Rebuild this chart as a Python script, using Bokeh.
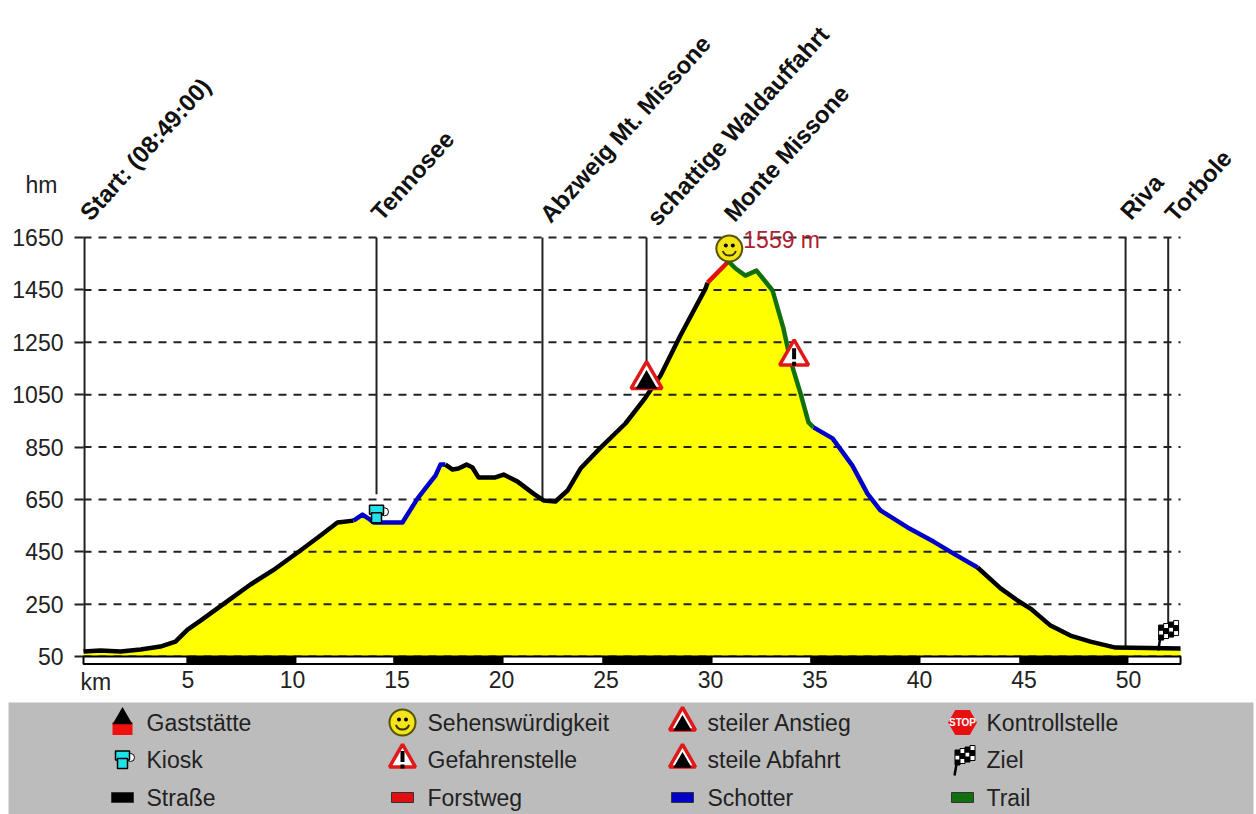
from bokeh.plotting import figure
from bokeh.models import FixedTicker, Range1d
from bokeh.core.properties import value
from bokeh.embed import file_html
from bokeh.resources import INLINE

# ---------- data ----------
km = [0, .81, 1.77, 2.73, 3.68, 4.40, 4.98, 5.6, 6.79, 7.99, 9.19, 10.38, 11.34, 12.15, 12.92,
      13.35, 13.64, 13.88, 15.26, 15.98, 16.46, 16.84, 17.08, 17.32, 17.66, 17.94, 18.33, 18.61,
      18.9, 19.71, 20.1, 20.77, 21.53, 22.01, 22.58, 23.16, 23.78, 24.74, 25.93, 26.89, 27.61,
      28.56, 29.76, 29.86, 30.81, 30.86, 31.2, 31.67, 32.2, 32.97, 33.49, 33.83, 34.31, 34.69,
      34.93, 35.84, 36.79, 37.51, 38.13, 39.43, 40.67, 41.63, 42.78, 43.88, 44.69, 45.31, 46.27,
      47.22, 48.18, 49.38, 52.49]
elev = [69, 73, 69, 77, 88, 107, 153, 187, 256, 325, 386, 455, 512, 562, 569,
        592, 577, 562, 562, 653, 703, 741, 783, 783, 764, 768, 783, 772,
        734, 734, 745, 718, 672, 646, 642, 684, 768, 848, 940, 1039, 1123,
        1276, 1455, 1478, 1555, 1559, 1532, 1505, 1524, 1448, 1303, 1180, 1054, 944,
        925, 883, 779, 672, 608, 543, 489, 443, 390, 310, 264, 233, 168,
        130, 107, 84, 81]
surface_from = [0, 12.92, 17.32, 29.86, 30.86, 34.93, 42.78]
surface_to = [12.92, 17.32, 29.86, 30.86, 34.93, 42.78, 52.49]
surface_kind = ["road", "gravel", "road", "forest", "trail", "gravel", "road"]
surface_colors = {"road": "#000000", "forest": "#e01010", "gravel": "#0000c8", "trail": "#107010"}

y_ticks = [50, 250, 450, 650, 850, 1050, 1250, 1450, 1650]
x_ticks = [5, 10, 15, 20, 25, 30, 35, 40, 45, 50]
strip_edges = [0, 4.98, 10.14, 14.88, 20.05, 24.88, 30.05, 34.83, 40, 44.83, 49.95, 52.49]

way_names = ["Start: (08:49:00)", "Tennosee", "Abzweig Mt. Missone", "schattige Waldauffahrt",
             "Monte Missone", "Riva", "Torbole"]
way_km = [0.05, 14.02, 21.96, 26.94, 30.9, 49.86, 51.9]
way_line_bottom = [69, 670, 646, 1160, 1600, 84, 170]

legend_col1 = ["Gaststätte", "Kiosk", "Straße"]
legend_col2 = ["Sehenswürdigkeit", "Gefahrenstelle", "Forstweg"]
legend_col3 = ["steiler Anstieg", "steile Abfahrt", "Schotter"]
legend_col4 = ["Kontrollstelle", "Ziel", "Trail"]

FONT = value("Liberation Sans")
TXT = "#222222"
PXX = 20.9    # px per km
PXY = 0.2618  # px per m
SX, SY = 1 / PXX, 1 / PXY


def X(px):
    return (px - 83) * SX


def Y(py):
    return 50 + (656 - py) * SY


# ---------- main chart ----------
p = figure(width=1256, height=814, x_range=Range1d(X(0), X(1256)), y_range=Range1d(Y(814), Y(0)),
           min_border=0, output_backend="svg", toolbar_location=None, outline_line_color=None)
p.grid.visible = False

p.yaxis.fixed_location = 0
p.yaxis.ticker = FixedTicker(ticks=y_ticks)
p.yaxis.axis_line_color = None
p.yaxis.major_tick_in = 0
p.yaxis.major_tick_out = 9
p.yaxis.major_tick_line_color = "#222222"
p.yaxis.major_tick_line_width = 2
p.yaxis.minor_tick_line_color = None
p.yaxis.major_label_standoff = 11
p.yaxis.major_label_text_font = "Liberation Sans"
p.yaxis.major_label_text_font_size = "23px"
p.yaxis.major_label_text_color = TXT

p.xaxis.fixed_location = Y(666)
p.xaxis.ticker = FixedTicker(ticks=x_ticks)
p.xaxis.axis_line_color = None
p.xaxis.major_tick_line_color = None
p.xaxis.minor_tick_line_color = None
p.xaxis.major_tick_in = 0
p.xaxis.major_tick_out = 0
p.xaxis.major_label_standoff = 4
p.xaxis.major_label_text_font = "Liberation Sans"
p.xaxis.major_label_text_font_size = "23px"
p.xaxis.major_label_text_color = TXT

# yellow area
p.varea(x=km, y1=[50] * len(km), y2=elev, fill_color="#ffff00")

# dashed elevation lines
p.segment(x0=[0] * len(y_ticks), y0=y_ticks, x1=[strip_edges[-1]] * len(y_ticks), y1=y_ticks,
          line_color="#222222", line_width=2, line_dash="8 7")

# way-point lines
p.segment(x0=way_km, y0=way_line_bottom, x1=way_km, y1=[1650] * len(way_km),
          line_color="#222222", line_width=2)

# strip below the profile
strip_colors = ["white" if i % 2 == 0 else "black" for i in range(len(strip_edges) - 1)]
p.quad(left=strip_edges[:-1], right=strip_edges[1:], bottom=[21] * (len(strip_edges) - 1),
       top=[50] * (len(strip_edges) - 1), fill_color=strip_colors, line_color="black", line_width=2)

# surface-coloured profile line
for a, b, kind in zip(surface_from, surface_to, surface_kind):
    xs = [k for k in km if a <= k <= b]
    ys = [e for k, e in zip(km, elev) if a <= k <= b]
    p.line(xs, ys, line_color=surface_colors[kind], line_width=4.5, line_join="round")

# rotated way-point names
name_dx = [0, -1, 2, 5, -1, -1, 1]
name_dy = [21, 21, 19, 16, 20, 22, 20]
p.text(x=[k + dx * SX for k, dx in zip(way_km, name_dx)], y=[1650 + dy * SY for dy in name_dy], text=way_names,
       angle=48, angle_units="deg", text_font=FONT, text_font_style="bold", text_font_size={"value": "24px"},
       text_color="#111111", text_baseline="middle", text_align="left")

p.text(x=[X(25), X(80)], y=[Y(184), Y(681)], text=["hm", "km"], text_font=FONT,
       text_font_size={"value": "23px"}, text_color=TXT, text_baseline="middle", text_align="left")
p.text(x=[30.9 + 14 * SX], y=[1559 + 21 * SY], text=["1559 m"], text_font=FONT,
       text_font_size={"value": "23px"}, text_color="#b02030", text_baseline="middle", text_align="left")


# ---------- icons ----------
def smiley(x, y, r=13):
    p.scatter([x], [y], marker="circle", size=2 * r, fill_color="#f4e418", line_color="#555500", line_width=2)
    p.scatter([x - 3.5 * SX, x + 3.5 * SX], [y + 3 * SY, y + 3 * SY], marker="circle", size=4, fill_color="black", line_color=None)
    p.arc([x], [y], radius={"value": 7, "units": "screen"}, start_angle=200, end_angle=340,
          start_angle_units="deg", end_angle_units="deg", line_color="#333300", line_width=2)


def warning(x, y, kind="danger", size=30):
    p.scatter([x], [y], marker="triangle", size=size, fill_color="white", line_color="#e01818", line_width=3.5)
    if kind == "danger":
        p.rect([x], [y + 3 * SY], width=4 * SX, height=11 * SY, fill_color="black", line_color=None)
        p.rect([x], [y - 7 * SY], width=4 * SX, height=4 * SY, fill_color="black", line_color=None)
    else:
        p.scatter([x], [y - 3 * SY], marker="triangle", size=size * 0.7, fill_color="black", line_color=None)


def kiosk(x, y):
    p.scatter([x + 8 * SX], [y + 2 * SY], marker="circle", size=8, fill_color="white", line_color="black", line_width=1)
    p.rect([x], [y + 4 * SY], width=14 * SX, height=9 * SY, fill_color="#20e0e8", line_color="black", line_width=1.5)
    p.rect([x], [y - 4 * SY], width=10 * SX, height=10 * SY, fill_color="#20e0e8", line_color="black", line_width=1.5)


def flag(x, y):
    p.segment([x - 8 * SX], [y - 15 * SY], [x - 5 * SX], [y + 2 * SY], line_color="black", line_width=2.5)
    for i in range(4):
        for j in range(3):
            cx = x - 5 * SX + i * 5 * SX
            cy = y - 2 * SY + j * 5 * SY + i * 1.5 * SY
            p.rect([cx], [cy], width=5 * SX, height=5 * SY,
                   fill_color="black" if (i + j) % 2 == 0 else "white", line_color="black", line_width=1)


smiley(30.9, 1608)
warning(26.94, 1108, kind="climb", size=31)
warning(34.0, 1195, kind="danger", size=29)
kiosk(14.02, 595)
flag(51.8, 130)

# ---------- legend panel ----------
p.quad(left=[X(8)], right=[X(1253)], bottom=[Y(814)], top=[Y(702)], fill_color="#bcbcbc", line_color=None)

row_y = [722, 759, 797]
col_text_x = [146, 427, 707, 986]
col_icon_x = [122, 402, 682, 962]
for col_x, names in zip(col_text_x, [legend_col1, legend_col2, legend_col3, legend_col4]):
    p.text(x=[X(col_x)] * 3, y=[Y(r) for r in row_y], text=names, text_font=FONT, text_font_size={"value": "23px"},
           text_color=TXT, text_baseline="middle", text_align="left")

# Gaststätte
p.rect([X(col_icon_x[0])], [Y(row_y[0] + 6)], width=20 * SX, height=13 * SY, fill_color="#f01010", line_color=None)
p.scatter([X(col_icon_x[0])], [Y(row_y[0] - 4)], marker="triangle", size=20, fill_color="black", line_color=None)
kiosk(X(col_icon_x[0]), Y(row_y[1]))
smiley(X(col_icon_x[1]), Y(row_y[0]))
warning(X(col_icon_x[1]), Y(row_y[1]), kind="danger", size=26)
warning(X(col_icon_x[2]), Y(row_y[0]), kind="climb", size=26)
warning(X(col_icon_x[2]), Y(row_y[1]), kind="climb", size=26)
p.scatter([X(col_icon_x[3])], [Y(row_y[0])], marker="hex", size=29, fill_color="#e81010", line_color=None)
p.text([X(col_icon_x[3])], [Y(row_y[0])], text=["STOP"], text_font=FONT, text_font_size={"value": "10px"},
       text_font_style="bold", text_color="white", text_align="center", text_baseline="middle")
flag(X(col_icon_x[3]), Y(row_y[1] + 1))
for cx, color in zip(col_icon_x, [surface_colors["road"], surface_colors["forest"],
                                  surface_colors["gravel"], surface_colors["trail"]]):
    p.rect([X(cx)], [Y(row_y[2])], width=22 * SX, height=10 * SY, fill_color=color, line_color="#333333")

open("out.html", "w").write(file_html(p, INLINE))
